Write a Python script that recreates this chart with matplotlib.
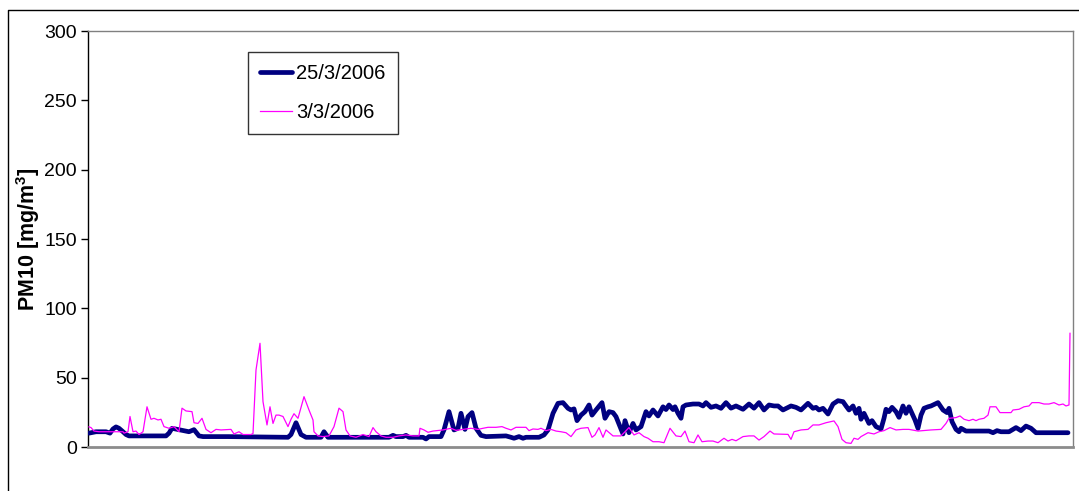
import matplotlib
matplotlib.use("Agg")
import matplotlib.pyplot as plt
from matplotlib.lines import Line2D

plt.rcParams['font.family'] = ['Liberation Sans', 'DejaVu Sans']
plt.rcParams['mathtext.fontset'] = 'custom'
plt.rcParams['mathtext.rm'] = 'Liberation Sans'
plt.rcParams['mathtext.bf'] = 'Liberation Sans:bold'

# ---- data (sample position, PM10 value) ----
blue_t = [1, 8, 18, 22, 25, 28, 31, 35, 38, 41, 78, 81, 84, 91, 101, 106, 111, 115, 140,
          200, 203, 208, 213, 218, 233, 236, 240, 301, 305, 308, 315, 318, 321, 335, 338,
          341, 353, 356, 361, 366, 370, 373, 377, 380, 384, 388, 393, 398, 418, 423, 426,
          431, 435, 438, 451, 456, 460, 465, 470, 475, 480, 483, 486, 489, 493, 497, 501,
          504, 508, 514, 517, 521, 525, 528, 531, 535, 537, 541, 545, 548, 553, 558, 561,
          565, 570, 575, 578, 581, 585, 587, 590, 593, 595, 598, 605, 611, 615, 618, 623,
          628, 633, 638, 643, 648, 655, 661, 666, 671, 676, 681, 686, 690, 695, 700, 703,
          708, 713, 720, 725, 728, 731, 735, 740, 745, 750, 755, 758, 761, 765, 768, 771,
          773, 776, 781, 784, 788, 793, 796, 798, 801, 804, 808, 811, 815, 818, 821, 824,
          827, 830, 833, 836, 840, 843, 850, 855, 859, 861, 864, 868, 871, 873, 878, 901,
          905, 909, 913, 921, 928, 933, 938, 943, 948, 980]
blue_v = [10, 11, 11, 10, 13, 14.5, 13.5, 11, 9, 8, 8, 10, 13.5, 12.5, 11, 12.5, 8, 7.5, 7.5,
          7, 9, 17.5, 9, 7, 7, 11, 7, 7, 8.4, 7.5, 7.5, 8.4, 7, 7, 5.8,
          7.5, 7.5, 12.3, 25.5, 12.3, 13.5, 24.3, 12.7, 21.9, 24.8, 13.5, 8.4, 7.5, 8, 7, 6.3,
          7.5, 6.3, 7, 7, 8.7, 12.3, 24.3, 31.5, 32, 27.9, 26.7, 27.5, 19, 23, 25.5, 30.3,
          23, 26.7, 32, 20.7, 25.5, 24.8, 21.9, 16.6, 9.4, 19, 10.3, 17, 12.3, 14.7, 25.5, 22.4,
          26.7, 22.4, 29, 27, 30.3, 27, 29, 24.3, 20.7, 29, 30.3, 31, 31, 29.6, 32, 28.6,
          29.6, 27.9, 32, 28, 29.6, 27.2, 31, 28, 32, 26.7, 30.3, 29.6, 29.6, 26.7, 28.5, 29.6,
          28.6, 26.7, 31.5, 27.9, 28.6, 26.7, 27.9, 23.8, 31, 33.4, 32.7, 29.6, 26.7, 29.6, 24.3, 27.9,
          20, 24.3, 17, 19, 14.7, 13, 20.7, 27.2, 25.5, 28.6, 25.5, 21.4, 29.6, 24.3, 29, 24.3,
          19.5, 13.5, 23, 27.9, 29, 29.6, 32, 26.7, 24.8, 27.9, 18.3, 12.7, 11, 13.5, 11.5, 11.5,
          10.3, 11.8, 11, 11, 14, 11.8, 15.1, 13.5, 10.3, 10.3]

pink_t = [1, 3, 6, 11, 35, 36, 40, 42, 45, 48, 51, 55, 59, 63, 66, 70, 73, 76, 81, 86,
          91, 94, 98, 104, 106, 110, 114, 118, 123, 128, 133, 143, 146, 151, 155, 163, 165,
          168, 172, 175, 179, 182, 185, 188, 191, 195, 200, 203, 206, 210, 216, 221, 225,
          226, 230, 235, 241, 246, 251, 255, 258, 262, 268, 275, 281, 285, 288, 293, 298,
          305, 311, 318, 325, 331, 332, 336, 340, 345, 355, 363, 368, 375, 383, 390, 395,
          400, 408, 414, 418, 423, 428, 438, 441, 445, 450, 453, 458, 463, 468, 473, 478,
          483, 488, 493, 500, 504, 507, 511, 515, 518, 525, 533, 541, 546, 551, 556, 560,
          565, 571, 576, 582, 588, 593, 597, 601, 606, 610, 614, 620, 625, 630, 636, 640,
          644, 648, 655, 661, 666, 671, 676, 682, 686, 700, 703, 706, 713, 720, 725, 731,
          738, 746, 750, 754, 758, 763, 766, 770, 773, 780, 786, 791, 796, 802, 808, 815,
          821, 830, 843, 853, 858, 861, 868, 872, 876, 881, 885, 888, 891, 896, 900, 902,
          908, 912, 923, 925, 931, 936, 941, 944, 951, 956, 961, 966, 971, 975, 978, 981, 982]
pink_v = [14.5, 14, 11.5, 11, 11, 10, 11, 22, 11, 11.5, 9, 11, 29, 20, 20.7, 19.5, 20, 14.7, 13.5, 14.7,
          11, 28, 26, 25.5, 17.5, 17, 20.7, 12.7, 10.3, 12.7, 12.3, 12.7, 9.4, 11, 9, 9, 9.7,
          55.5, 74.8, 32.7, 15.9, 29, 17, 23, 23, 22, 14.7, 20, 24, 20.7, 36.3, 26.7, 19.5,
          11, 8, 7.5, 8, 14.7, 28, 25.5, 12.3, 8, 7, 9, 7.5, 14, 11, 8, 7,
          7, 8, 8.7, 8, 8, 13.5, 12.3, 10.6, 11.5, 12.3, 13.5, 12, 12.7, 13.5, 12.7, 13.5,
          14.2, 14.2, 14.7, 13.5, 12.3, 14.2, 14.2, 11.8, 13, 12.7, 13.5, 11.8, 12.7, 11.5, 11, 10.3,
          7.5, 12.3, 13.5, 14, 7, 8.7, 14, 7, 12.3, 8, 8, 14, 8.7, 10.3, 7.5, 6.3,
          3.8, 3.8, 3.1, 13.5, 8, 7.5, 11.5, 3.8, 3.1, 8.7, 3.8, 4.3, 4.3, 3.1, 6.3, 4.3,
          5.5, 4.5, 7.5, 8, 8, 5, 7.5, 11.5, 9.4, 9.1, 5.5, 11, 12.3, 12.7, 15.9, 15.9,
          17.5, 18.8, 14.7, 5.5, 3.1, 2.6, 6.3, 5.5, 7.5, 10.3, 9.4, 11, 11.8, 14, 12.3, 12.7,
          12.7, 11.5, 12.3, 12.7, 17, 20.7, 21.2, 22.4, 20, 19, 20, 19, 20, 20.7, 23, 29,
          29, 24.8, 24.8, 26.7, 27.2, 29, 29.6, 32, 32, 31, 31, 32, 30.3, 31, 29.6, 30.3, 82]

series_labels = ['25/3/2006', '3/3/2006']
y_ticks = [0, 50, 100, 150, 200, 250, 300]
y_label = r'PM10 [mg/m$^{\mathbf{3}}$]'

# ---- figure ----
fig = plt.figure(figsize=(10.79, 4.91), dpi=100)
ax = fig.add_axes([88 / 1079, 1 - 447 / 491, (1072.5 - 88) / 1079, (447 - 31) / 491])

ax.plot(blue_t, blue_v, color='#000080', lw=3.4, solid_joinstyle='round',
        solid_capstyle='round', label=series_labels[0], zorder=3)
ax.plot(pink_t, pink_v, color='#FF00FF', lw=0.9, label=series_labels[1], zorder=4)

ax.set_xlim(0, 984.5)
ax.set_ylim(0, 300)
ax.set_yticks(y_ticks)
ax.set_xticks([])
ax.tick_params(axis='y', direction='out', length=5, width=1, color='black',
               labelsize=14, pad=3)
ax.spines['left'].set_color('black')
ax.spines['left'].set_linewidth(1.0)
for s in ('top', 'right'):
    ax.spines[s].set_color('#808080')
    ax.spines[s].set_linewidth(1.0)
ax.spines['bottom'].set_color('#8c8c8c')
ax.spines['bottom'].set_linewidth(2.0)

ax.set_ylabel(y_label, fontsize=15.5, fontweight='bold')
ax.yaxis.set_label_coords(-0.047, 0.5)

leg = ax.legend(loc='upper left', bbox_to_anchor=((248 - 88) / 984.5, (447 - 52) / 416),
                borderaxespad=0, fontsize=14.5, frameon=True, fancybox=False,
                edgecolor='black', handlelength=1.6, handletextpad=0.2,
                labelspacing=1.0, borderpad=0.6)
leg.get_frame().set_linewidth(1.0)

# outer chart border
fig.add_artist(Line2D([8 / 1079, 8 / 1079, 1.0], [0.0, 1 - 10 / 491, 1 - 10 / 491],
                      transform=fig.transFigure, color='black', lw=1.0))

fig.savefig('out.png', dpi=100)
